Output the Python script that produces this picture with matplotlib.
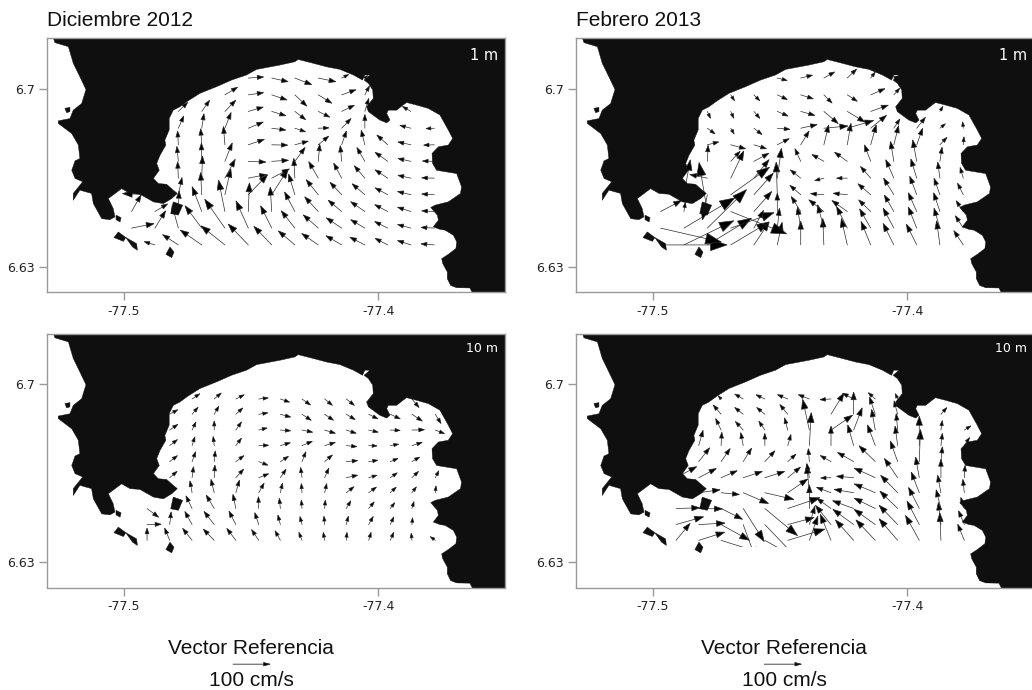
import numpy as np
import matplotlib
matplotlib.use("Agg")
import matplotlib.pyplot as plt
from matplotlib.patches import FancyArrowPatch, Polygon, Rectangle

_ = np.nan

# ---- coastline (degrees) ----
coast_lon = [-77.3630,-77.3639,-77.3691,-77.3715,-77.3728,-77.3728,-77.3746,-77.3750,-77.3724,-77.3694,
             -77.3691,-77.3704,-77.3737,-77.3757,-77.3783,-77.3763,-77.3767,-77.3793,-77.3776,-77.3724,
             -77.3676,-77.3672,-77.3691,-77.3770,-77.3786,-77.3788,-77.3763,-77.3724,-77.3707,-77.3724,
             -77.3757,-77.3803,-77.3849,-77.3888,-77.3907,-77.3927,-77.3960,-77.3966,-77.3953,-77.3966,
             -77.3993,-77.4038,-77.4045,-77.4019,-77.4021,-77.4038,-77.4055,-77.4032,-77.4052,-77.4061,
             -77.4097,-77.4150,-77.4202,-77.4255,-77.4314,-77.4327,-77.4386,-77.4477,-77.4517,-77.4576,
             -77.4635,-77.4700,-77.4746,-77.4779,-77.4805,-77.4821,-77.4821,-77.4838,-77.4834,-77.4857,
             -77.4870,-77.4860,-77.4883,-77.4864,-77.4831,-77.4805,-77.4789,-77.4811,-77.4844,-77.4883,
             -77.4936,-77.4975,-77.5008,-77.5060,-77.5041,-77.5034,-77.5054,-77.5086,-77.5119,-77.5126,
             -77.5172,-77.5198,-77.5198,-77.5161,-77.5191,-77.5204,-77.5191,-77.5172,-77.5178,-77.5204,
             -77.5257,-77.5257,-77.5211,-77.5198,-77.5165,-77.5148,-77.5172,-77.5198,-77.5217,-77.5270,
             -77.5276,-77.5276,-77.3400,-77.3400,-77.3630]
coast_lat = [6.6200,6.6218,6.6219,6.6228,6.6255,6.6281,6.6314,6.6333,6.6350,6.6373,
             6.6399,6.6425,6.6445,6.6448,6.6458,6.6484,6.6504,6.6534,6.6543,6.6556,
             6.6589,6.6615,6.6667,6.6680,6.6707,6.6746,6.6772,6.6779,6.6805,6.6838,
             6.6897,6.6923,6.6936,6.6946,6.6932,6.6916,6.6916,6.6903,6.6877,6.6866,
             6.6877,6.6910,6.6929,6.6962,6.6995,6.7021,6.7034,6.7054,6.7054,6.7034,
             6.7054,6.7076,6.7086,6.7100,6.7115,6.7106,6.7093,6.7076,6.7054,6.7034,
             6.7008,6.6982,6.6953,6.6929,6.6916,6.6883,6.6838,6.6798,6.6779,6.6739,
             6.6707,6.6680,6.6648,6.6628,6.6625,6.6602,6.6589,6.6569,6.6549,6.6556,
             6.6586,6.6589,6.6608,6.6569,6.6530,6.6497,6.6486,6.6490,6.6549,6.6589,
             6.6602,6.6562,6.6589,6.6635,6.6648,6.6680,6.6717,6.6726,6.6779,6.6824,
             6.6864,6.6874,6.6883,6.6916,6.6942,6.6997,6.7047,6.7100,6.7165,6.7181,
             6.7198,6.7250,6.7250,6.6100,6.6100]

island_lons = [[-77.5231,-77.5211,-77.5211,-77.5224],
               [-77.4805,-77.4768,-77.4785,-77.4815],
               [-77.5030,-77.5010,-77.5014,-77.5030],
               [-77.5021,-77.4991,-77.5001,-77.5038],
               [-77.4991,-77.4949,-77.4946,-77.4965,-77.4986],
               [-77.4818,-77.4802,-77.4811,-77.4834]]
island_lats = [[6.6923,6.6927,6.6910,6.6906],
               [6.6556,6.6543,6.6504,6.6510],
               [6.6504,6.6494,6.6477,6.6486],
               [6.6438,6.6416,6.6401,6.6416],
               [6.6416,6.6392,6.6366,6.6379,6.6408],
               [6.6379,6.6359,6.6337,6.6350]]

# ---- measurement grids (1 m and 10 m) ----
lon_1m = [-77.4969,-77.4877,-77.4785,-77.4693,-77.4602,-77.4510,-77.4418,-77.4327,-77.4235,-77.4143,-77.4052,-77.3962,-77.3871,-77.3779]
lat_1m = [6.6387,6.6453,6.6518,6.6584,6.6649,6.6715,6.6780,6.6845,6.6911,6.6976,6.7042]
lon_10m = [-77.4908,-77.4819,-77.4731,-77.4644,-77.4559,-77.4469,-77.4384,-77.4299,-77.4210,-77.4125,-77.4037,-77.3952,-77.3867,-77.3775]
lat_10m = [6.6386,6.6448,6.6511,6.6573,6.6632,6.6695,6.6758,6.6819,6.6881,6.6941]

# ---- currents, cm/s: Diciembre 2012, 1 m ----
u_dec_1m = [[_,-30,-43,-58,-64,-54,-48,-45,-45,-43,-41,-35,-37,-37],
            [61,29,-17,-45,-54,-33,-30,-37,-41,-42,-39,-36,-37,-37],
            [26,35,2,-26,-17,3,-4,-28,-37,-37,-39,-36,-37,-35],
            [_,-87,10,-3,16,52,44,-17,-33,-32,-35,-35,-37,-35],
            [_,_,-2,2,28,50,48,-3,-26,-22,-29,-35,-36,-35],
            [_,_,-4,-1,20,48,46,28,4,-4,-22,-35,-36,-33],
            [_,_,-2,-3,-4,44,44,37,29,13,-10,-30,-36,-30],
            [_,_,15,6,17,41,39,30,30,26,0,_,-31,-24],
            [_,_,26,22,30,41,39,30,32,35,11,_,-24,_],
            [_,_,_,_,35,42,42,33,37,39,13,_,_,_],
            [_,_,_,_,_,42,45,46,48,20,9,_,_,_]]
v_dec_1m = [[_,9,28,40,51,56,50,38,31,25,21,18,12,3],
            [12,47,61,60,77,73,60,47,36,28,23,18,10,2],
            [45,21,56,67,84,77,66,53,40,31,27,19,12,2],
            [_,3,47,60,70,54,69,56,41,34,30,19,9,2],
            [_,_,45,60,51,10,25,54,45,41,34,23,8,1],
            [_,_,41,50,50,-2,3,38,47,43,38,25,8,1],
            [_,_,38,44,50,15,-1,10,24,38,40,27,8,-1],
            [_,_,34,40,43,17,-5,-10,1,27,38,_,8,-1],
            [_,_,25,31,31,12,-12,-23,-16,17,36,_,14,_],
            [_,_,_,_,21,6,-14,-31,-23,14,25,_,_,_],
            [_,_,_,_,_,3,-10,-18,-10,10,8,_,_,_]]

# ---- Febrero 2013, 1 m ----
u_feb_1m = [[176,132,117,102,41,13,0,-3,-16,-26,-29,-28,-9,-26],
            [161,135,104,115,26,6,-9,-17,-29,-30,-29,-23,-16,-22],
            [57,4,-22,148,48,0,-26,-41,-42,-33,-26,-23,-17,-20],
            [_,17,-13,103,52,-3,-30,-37,-39,-35,-28,-19,-16,-16],
            [_,_,-48,35,41,11,-29,-26,-30,-28,-22,-16,-6,-9],
            [_,_,2,26,41,_,-16,-33,-35,-17,-9,-11,6,_],
            [_,_,32,41,35,33,23,13,10,15,13,16,20,2],
            [_,_,22,10,23,35,45,65,71,43,17,24,16,-2],
            [_,_,9,9,17,30,39,39,48,48,_,_,9,_],
            [_,_,_,11,17,28,35,23,28,39,17,_,_,_],
            [_,_,_,_,_,28,33,30,26,13,13,_,_,_]]
v_feb_1m = [[0,64,71,61,61,61,64,71,71,63,58,56,65,39],
            [-37,80,102,41,48,54,57,63,58,52,54,57,54,34],
            [30,26,130,-59,54,50,41,32,30,32,45,51,51,30],
            [_,93,-68,73,58,87,26,3,4,30,45,50,45,32],
            [_,_,10,73,50,80,23,-7,0,32,50,52,44,30],
            [_,_,44,28,22,_,35,19,25,45,54,58,39,_],
            [_,_,8,-11,-11,17,38,54,58,54,52,45,21,23],
            [_,_,-16,-17,-18,-3,10,6,21,35,26,30,13,19],
            [_,_,-20,-20,-20,-13,-11,-33,-29,17,_,_,15,_],
            [_,_,_,-17,-17,-13,-11,-23,-18,17,19,_,_,_],
            [_,_,_,_,_,-7,8,17,25,17,6,_,_,_]]

# ---- Diciembre 2012, 10 m ----
u_dec_10m = [[0,-14,-26,-30,-25,-20,-15,-9,-4,2,7,10,-2,-15],
             [39,4,-20,-28,-19,-11,-7,-6,-2,6,13,10,2,_],
             [32,_,-17,-22,-8,-1,-3,-2,2,13,16,13,6,_],
             [_,_,-6,-9,10,15,6,-2,6,22,22,17,13,2],
             [_,21,4,2,22,28,16,-4,12,32,24,20,19,10],
             [_,22,10,3,23,26,23,11,22,32,26,22,22,_],
             [_,22,8,-3,16,28,28,29,30,30,24,24,29,_],
             [_,23,11,0,16,24,29,30,30,28,27,28,35,26],
             [_,23,17,13,20,26,29,26,25,25,26,28,29,16],
             [_,_,22,20,24,27,26,24,22,23,_,_,20,_]]
v_dec_10m = [[34,34,33,31,33,30,27,23,23,23,23,23,21,11],
             [1,35,36,36,37,33,27,23,24,24,23,22,20,_],
             [-24,_,35,37,39,33,29,24,24,22,19,17,20,_],
             [_,_,33,37,35,27,27,26,26,17,16,16,17,20],
             [_,18,31,35,24,11,24,29,27,7,7,14,18,20],
             [_,17,28,30,17,-10,15,28,19,3,4,9,13,_],
             [_,17,25,26,21,1,8,12,9,-3,-1,4,9,_],
             [_,16,23,26,23,6,-2,-6,-9,-9,-6,-1,1,-10],
             [_,13,20,23,18,4,-8,-17,-17,-15,-13,-13,-19,-26],
             [_,_,15,17,12,3,-9,-17,-18,-18,_,_,-24,_]]

# ---- Febrero 2013, 10 m ----
u_feb_10m = [[38,70,124,_,70,99,23,-29,-49,-52,-50,-37,-3,-18],
             [74,71,76,33,94,71,15,-42,-56,-57,-50,-33,-7,-16],
             [64,64,58,56,87,86,0,-39,-57,-57,-48,-29,-13,-10],
             [_,58,50,68,78,54,-7,-40,-53,-57,-46,-22,-9,-4],
             [56,48,44,52,54,35,-7,-29,-47,-57,-36,-10,0,2],
             [_,30,25,23,28,23,-3,-30,-44,-44,-20,3,4,_],
             [_,12,2,-7,0,9,5,0,-16,-21,-7,0,4,15],
             [_,_,-15,-22,-17,-9,-18,58,23,-10,-4,_,4,19],
             [_,_,-22,-24,-23,-22,_,35,0,-16,-10,_,17,_],
             [_,_,-9,-24,-25,-29,-31,-31,-31,-20,-7,_,_,_]]
v_feb_10m = [[46,22,-39,_,-39,30,65,70,55,55,58,67,74,44],
             [21,4,-42,-90,-98,19,50,52,41,41,52,63,60,38],
             [2,-1,-29,-88,-72,29,64,28,21,28,47,57,51,31],
             [_,8,-5,-29,-18,37,76,15,9,24,47,56,48,37],
             [30,25,19,17,17,29,39,-1,4,26,52,56,50,34],
             [_,38,36,37,30,21,36,17,25,43,56,86,41,_],
             [_,42,37,36,34,31,88,53,56,56,53,79,34,23],
             [_,_,32,24,25,34,82,40,60,56,45,_,27,12],
             [_,_,26,19,19,27,_,57,60,47,37,_,19,_],
             [_,_,10,14,12,12,12,-2,16,18,16,_,_,_]]

titles = ["Diciembre 2012", "Febrero 2013"]
depth_labels = ["1 m", "10 m"]
x_ticks = [-77.5, -77.4]
x_tick_labels = ["-77.5", "-77.4"]
y_ticks = [6.63, 6.7]
y_tick_labels = ["6.63", "6.7"]
key_value = 100
key_label = "100 cm/s"
key_title = "Vector Referencia"

W, H = 1032, 690
LAND = "#0f0f0f"
AX_GREY = "#999999"
SANS = "Liberation Sans"
DEG_PER_CM = 0.01505 / 100   # arrow scale: 100 cm/s spans 0.01505 degrees
PX_PER_CM = 0.383

fig = plt.figure(figsize=(W / 100, H / 100), dpi=100)


def make_axes(left, top, bottom):
    ax = fig.add_axes([left / W, 1 - bottom / H, 458 / W, (bottom - top) / H])
    ax.set_xlim(-77.5300, -77.3500)
    ax.set_ylim(6.6201, 6.7198)
    for s in ax.spines.values():
        s.set_color(AX_GREY)
        s.set_linewidth(1.0)
        s.set_zorder(6)
    ax.set_xticks(x_ticks, x_tick_labels)
    ax.set_yticks(y_ticks, y_tick_labels)
    ax.tick_params(length=5.8, width=1.0, color=AX_GREY, labelsize=9, labelcolor="#222222", pad=3)
    ax.add_patch(Polygon(np.column_stack([coast_lon, coast_lat]), closed=True, fc=LAND, ec=LAND, lw=0.3, zorder=3))
    for lo, la in zip(island_lons, island_lats):
        ax.add_patch(Polygon(np.column_stack([lo, la]), closed=True, fc=LAND, ec=LAND, lw=0.3, zorder=3))
    return ax


def draw_field(ax, lons, lats, U, V):
    for la, ru, rv in zip(lats, U, V):
        for lo, u, v in zip(lons, ru, rv):
            if np.isnan(u) or np.isnan(v):
                continue
            L = np.hypot(u, v) * PX_PER_CM
            hl = (0.2 * L + 2.8) * 0.72
            hw = hl * 0.35
            ax.add_patch(FancyArrowPatch(
                (lo, la), (lo + u * DEG_PER_CM, la + v * DEG_PER_CM),
                arrowstyle=f"-|>,head_length={hl:.2f},head_width={hw:.2f}",
                mutation_scale=1, shrinkA=0, shrinkB=0, lw=0.5,
                edgecolor="#2a2a2a", facecolor="black", zorder=2))


panels = [
    (47.3, 38.3, 292.3, lon_1m, lat_1m, u_dec_1m, v_dec_1m, 0, 0),
    (576.3, 38.3, 292.3, lon_1m, lat_1m, u_feb_1m, v_feb_1m, 1, 0),
    (47.3, 333.5, 587.5, lon_10m, lat_10m, u_dec_10m, v_dec_10m, 0, 1),
    (576.3, 333.5, 587.5, lon_10m, lat_10m, u_feb_10m, v_feb_10m, 1, 1),
]
axes = []
for left, top, bottom, lons, lats, U, V, col, row in panels:
    ax = make_axes(left, top, bottom)
    draw_field(ax, lons, lats, U, V)
    axes.append(ax)
    ax.text(-77.3530, 6.7130 if row == 0 else 6.7140, depth_labels[row],
            color="white", family="DejaVu Sans", fontsize=10.5 if row == 0 else 9,
            ha="right", va="center", zorder=5)
    if row == 0:
        ax.text(left / W, 1 - 20.5 / H, titles[col], transform=fig.transFigure, family=SANS,
                fontsize=15, ha="left", va="center", color="#111111")

# the lowest vectors of the 10 m February field stop at the edge of the data
axes[3].add_patch(Rectangle((-77.4748, 6.6287), 0.0360, 0.0074, fc="white", ec="none", zorder=2.5))

# reference vectors below the lower panels
for ax, start, cx in [(axes[2], -77.4570, 251), (axes[3], -77.4561, 784)]:
    ax.add_patch(FancyArrowPatch(
        (start, 6.5900), (start + key_value * DEG_PER_CM, 6.5900),
        arrowstyle="-|>,head_length=4.4,head_width=1.2", mutation_scale=1,
        shrinkA=0, shrinkB=0, lw=0.6, edgecolor="#2a2a2a", facecolor="black", clip_on=False))
    fig.text(cx / W, 1 - 648 / H, key_title, family=SANS, fontsize=15, ha="center", va="center", color="#111111")
    fig.text(cx / W, 1 - 680 / H, key_label, family=SANS, fontsize=15, ha="center", va="center", color="#111111")

fig.savefig("out.png", dpi=100, facecolor="white")
